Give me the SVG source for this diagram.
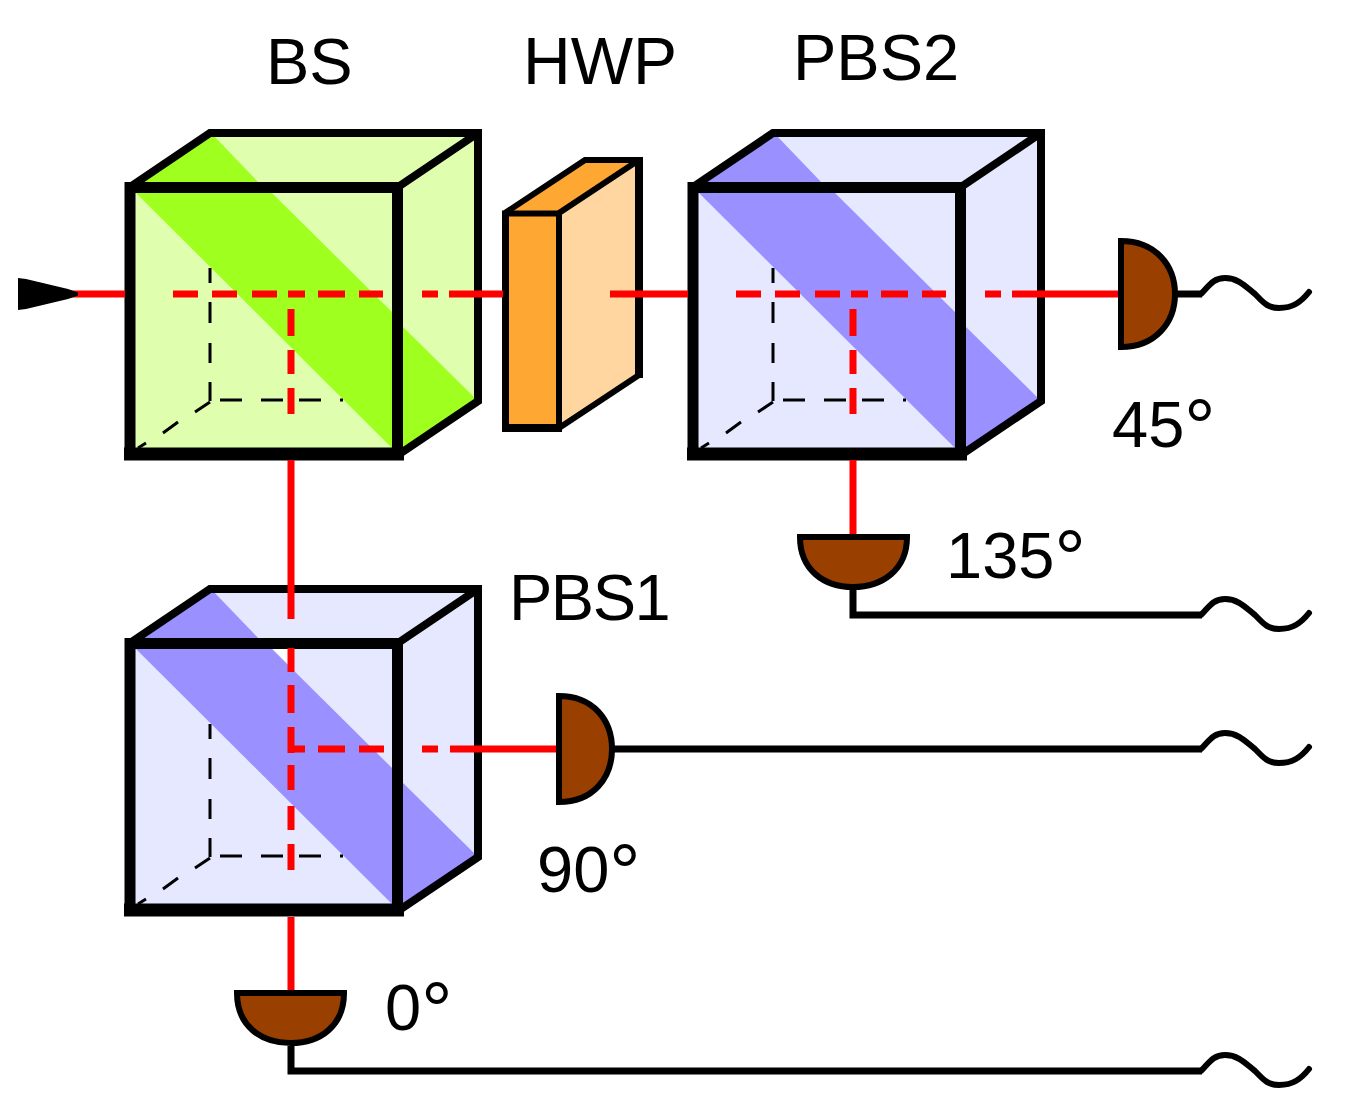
<svg xmlns="http://www.w3.org/2000/svg" width="1353" height="1119" viewBox="0 0 1353 1119">
<style>
text{font-family:"Liberation Sans",Arial,sans-serif;font-size:65px;fill:#000}
.deg{font-size:78px}
.face{fill:var(--face)}
.band{fill:var(--band)}
.edge{fill:none;stroke:#000;stroke-linejoin:miter}
.hid{fill:none;stroke:#000;stroke-width:3}
.red{fill:none;stroke:#f00;stroke-width:7}
.wire{fill:none;stroke:#000;stroke-width:7}
.wave{fill:none;stroke:#000;stroke-width:6;stroke-linecap:round}
.det{fill:#993f00;stroke:#000;stroke-width:6}
#BS{--face:#dfffaf;--band:#9fff1f}
#PBS1,#PBS2{--face:#e6e8ff;--band:#9a90ff}
</style>
<defs>
<g id="cube">
<polygon class="face" points="130,187 210,133 478,133 478,401 398,454 130,454"/>
<polygon class="band" points="140,184 212,134 260,184"/>
<polygon class="band" points="400,324 476,399 400,451"/>
<polygon class="band" points="136,193 272,193 392,312 392,448"/>
<path class="hid" d="M210,268V283M210,302V323M210,343V363M210,382V401M220,400H242M261,400H283M299,400H321M340,400H343M210,402L195,412M178,422L163,433M146,443L138,448"/>
<path class="edge" stroke-width="8" d="M130,187L210,133H478V401L398,455M398,187L478,133"/>
<rect class="edge" stroke-width="11" x="130" y="187.500" width="267.500" height="267"/>
<path class="edge" stroke-width="13" d="M124,454H404"/>
</g>
<g id="wave"><path class="wave" d="M0,0C8,-8 12,-16 24,-16C38,-16 46,-6 54,0C62,8 66,14 78,14C92,14 100,8 108,-2"/></g>
<marker id="tip" markerUnits="userSpaceOnUse" markerWidth="62" markerHeight="32" refX="50" refY="16" orient="auto"><polygon points="0,0 8,1 50,11 60,14.500 60,17.500 50,21 8,31 0,32" fill="#000"/></marker>
</defs>
<g id="BS"><use href="#cube"/><text x="266" y="84">BS</text></g>
<g id="PBS2"><use href="#cube" x="563"/><text x="793" y="80">PBS2</text></g>
<g id="PBS1"><use href="#cube" y="456"/><polygon points="273,649 288,649 288,664" fill="#fff"/><text x="509" y="620" style="letter-spacing:-1.500px">PBS1</text></g>
<g id="HWP">
<polygon points="505,213 585,160 639,160 559,213" fill="#ffa733"/>
<polygon points="559,213 639,160 639,375 559,428" fill="#ffd6a0"/>
<rect x="505" y="213" width="54" height="215" fill="#ffa733"/>
<path class="edge" stroke-width="6" d="M505,213L585,160H636M559,213L639,160M559,428L639,375"/>
<path class="edge" stroke-width="8" d="M639,157V378"/>
<path class="edge" stroke-width="6" d="M502,213.500H562M559,213V428"/>
<path class="edge" stroke-width="7" d="M505.500,213V428"/>
<path class="edge" stroke-width="8" d="M502,428H562"/>
<text x="523" y="84" style="font-size:66px">HWP</text>
</g>
<g id="connectors">
<path class="red" marker-start="url(#tip)" d="M68,294H125"/>
<path class="red" d="M173,294H198M212,294H237M252,294H277M288,294H305M318,294H345M359,294H383M422,294H438M449,294H503"/>
<path class="red" d="M291,309V336M291,350V374M291,388V414M291,460V619"/>
<path class="red" d="M610,294H688M736,294H761M775,294H800M815,294H840M851,294H868M881,294H908M922,294H946M985,294H1001M1012,294H1118"/>
<path class="red" d="M853,309V336M853,350V374M853,388V414M853,460V534"/>
<path class="red" d="M291,648V672M291,685V713M291,727V753M291,765V790M291,806V830M291,844V870M291,917V990"/>
<path class="red" d="M288,749H305M318,749H345M359,749H384M422,749H438M450,749H556"/>
<path class="wire" d="M1176,294H1202"/>
<path class="wire" d="M853,590V615H1202"/>
<path class="wire" d="M612,749H1202"/>
<path class="wire" d="M291,1046V1071H1202"/>
<use href="#wave" x="1201" y="294"/>
<use href="#wave" x="1201" y="615"/>
<use href="#wave" x="1201" y="749"/>
<use href="#wave" x="1201" y="1071"/>
</g>
<g id="det45"><path class="det" d="M1121,241C1155,241 1175,265 1175,294C1175,323 1155,347 1121,347Z"/><text x="1112" y="447">45<tspan class="deg" dy="7">°</tspan></text></g>
<g id="det135"><path class="det" d="M800,537C800,570 824,587 853,587C882,587 907,570 907,537Z"/><text x="946" y="578">135<tspan class="deg" dy="7">°</tspan></text></g>
<g id="det90"><path class="det" d="M559,696C593,696 612,720 612,749C612,778 593,802 559,802Z"/><text x="537" y="892">90<tspan class="deg" dy="7">°</tspan></text></g>
<g id="det0"><path class="det" d="M237,993C237,1026 261,1043 291,1043C320,1043 344,1026 344,993Z"/><text x="385" y="1030">0<tspan class="deg" dy="7">°</tspan></text></g>
</svg>
